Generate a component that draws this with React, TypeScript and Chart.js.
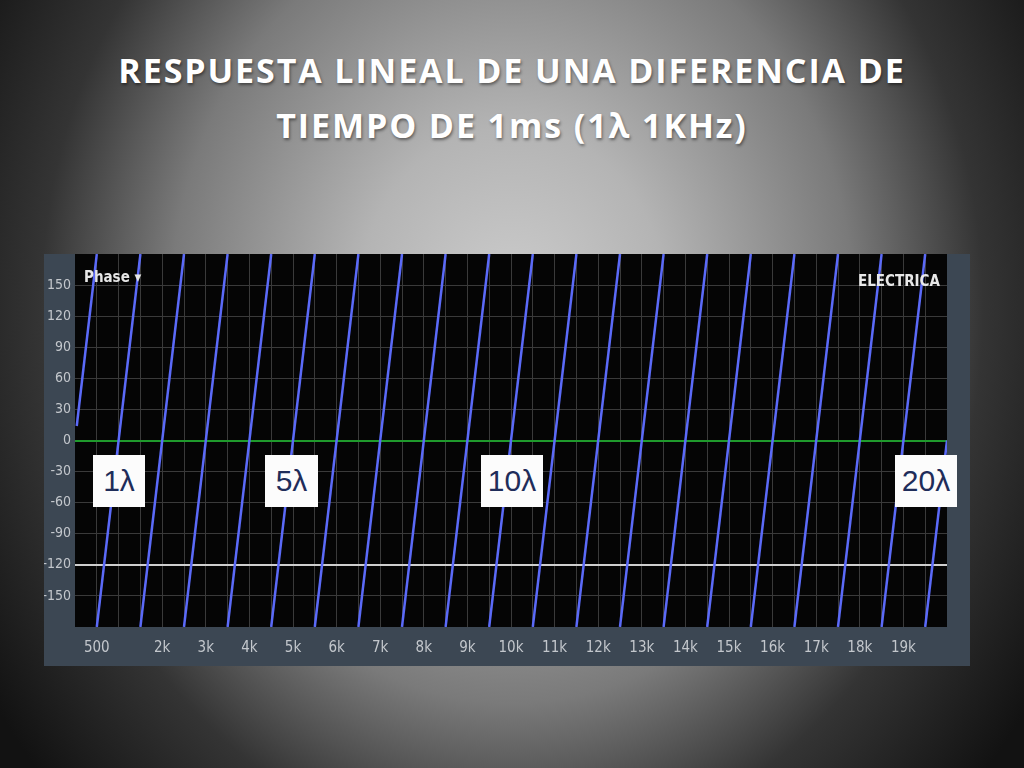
import { useEffect, useRef } from 'react';
import { Chart, registerables } from 'chart.js';

Chart.register(...registerables);

// phase wraps: each segment rises from -180 to +180 over 1 kHz (1 ms delay)
const segmentStartHz = [40, 500, 1500, 2500, 3500, 4500, 5500, 6500, 7500, 8500, 9500, 10500, 11500, 12500, 13500, 14500, 15500, 16500, 17500, 18500, 19500];
const segmentEndHz = [500, 1500, 2500, 3500, 4500, 5500, 6500, 7500, 8500, 9500, 10500, 11500, 12500, 13500, 14500, 15500, 16500, 17500, 18500, 19500, 20000];
const segmentStartDeg = [14, -180, -180, -180, -180, -180, -180, -180, -180, -180, -180, -180, -180, -180, -180, -180, -180, -180, -180, -180, -180];
const segmentEndDeg = [180, 180, 180, 180, 180, 180, 180, 180, 180, 180, 180, 180, 180, 180, 180, 180, 180, 180, 180, 180, 0];

// x axis labels that are shown (1k is missing on the analyzer screen)
const freqLabelHz = [500, 2000, 3000, 4000, 5000, 6000, 7000, 8000, 9000, 10000, 11000, 12000, 13000, 14000, 15000, 16000, 17000, 18000, 19000];
const phaseLabelDeg = [150, 120, 90, 60, 30, 0, -30, -60, -90, -120, -150];

const titleLines = ['RESPUESTA LINEAL DE UNA DIFERENCIA DE', 'TIEMPO DE 1ms (1λ 1KHz)'];

const narrowFont = '"Liberation Sans Narrow", "DejaVu Sans Condensed", Roboto, sans-serif';

const plotBackground = {
    id: 'plotBackground',
    beforeDraw: (chart: any) => {
        const { ctx, chartArea } = chart;
        ctx.save();
        ctx.fillStyle = '#050505';
        ctx.fillRect(chartArea.left, chartArea.top, chartArea.right - chartArea.left, chartArea.bottom - chartArea.top);
        ctx.restore();
    },
};

const PhaseChart = () => {
    const chartRef = useRef<HTMLCanvasElement>(null);

    useEffect(() => {
        const ctx = chartRef.current?.getContext('2d');
        if (!ctx) return;

        const datasets = segmentStartHz.map((startHz, i) => ({
            data: [
                { x: startHz, y: segmentStartDeg[i] },
                { x: segmentEndHz[i], y: segmentEndDeg[i] },
            ],
            borderColor: '#5b6af8',
            borderWidth: 2.5,
            pointRadius: 0,
            pointBorderWidth: 0,
            fill: false,
            tension: 0,
        }));

        const chart = new Chart(ctx, {
            type: 'line',
            data: { datasets },
            options: {
                animation: false,
                responsive: true,
                maintainAspectRatio: false,
                layout: { autoPadding: false, padding: { top: 0, right: 23, bottom: 0, left: 0 } },
                plugins: {
                    legend: { display: false },
                    tooltip: { enabled: false },
                },
                scales: {
                    x: {
                        type: 'linear',
                        min: 0,
                        max: 20000,
                        border: { display: false },
                        afterFit: (scale: any) => {
                            scale.height = 39;
                            scale.paddingLeft = 0;
                            scale.paddingRight = 0;
                        },
                        grid: {
                            drawTicks: false,
                            color: '#3a3a3a',
                            lineWidth: 1,
                        },
                        ticks: {
                            stepSize: 500,
                            autoSkip: false,
                            maxRotation: 0,
                            padding: 12,
                            color: '#c3c7cc',
                            font: { family: narrowFont, size: 15 },
                            callback: (value: any) => {
                                const v = Number(value);
                                if (v <= 0 || v >= 20000) return null;
                                if (!freqLabelHz.includes(v)) return '';
                                return v >= 1000 ? `${v / 1000}k` : `${v}`;
                            },
                        },
                    },
                    y: {
                        min: -180,
                        max: 180,
                        border: { display: false },
                        afterFit: (scale: any) => {
                            scale.width = 31;
                            scale.paddingTop = 0;
                            scale.paddingBottom = 0;
                        },
                        grid: {
                            drawTicks: false,
                            color: (c: any) => {
                                const v = c.tick?.value;
                                if (v === 0) return '#1f9a2c';
                                if (v === -120) return '#cfcfcf';
                                return '#3a3a3a';
                            },
                            lineWidth: (c: any) => {
                                const v = c.tick?.value;
                                return v === 0 || v === -120 ? 2 : 1;
                            },
                        },
                        ticks: {
                            stepSize: 30,
                            padding: 4,
                            color: '#c3c7cc',
                            font: { family: narrowFont, size: 14 },
                            callback: (value: any) => {
                                const v = Number(value);
                                if (!phaseLabelDeg.includes(v)) return null;
                                return `${v}`;
                            },
                        },
                    },
                },
            },
            plugins: [plotBackground],
        });

        return () => {
            chart.destroy();
        };
    }, []);

    return <canvas ref={chartRef} />;
};

const lambdaBox = (left: number, width: number, text: string) => (
    <div
        key={text}
        style={{
            position: 'absolute',
            left,
            top: 455,
            width,
            height: 52,
            background: '#fcfcfc',
            color: '#1f2d5a',
            fontFamily: '"Liberation Sans", Arial, sans-serif',
            fontSize: 30,
            lineHeight: '52px',
            textAlign: 'center',
        }}
    >
        {text}
    </div>
);

export default function App() {
    return (
        <div
            style={{
                position: 'absolute',
                left: 0,
                top: 0,
                width: 1024,
                height: 768,
                overflow: 'hidden',
                background:
                    'radial-gradient(ellipse 620px 720px at 50% 40%, #cdcdcd 0%, #b4b4b4 25%, #7a7a7a 55%, #343434 76%, #121212 100%)',
            }}
        >
            {titleLines.map((line, i) => (
                <div
                    key={line}
                    style={{
                        position: 'absolute',
                        left: 0,
                        top: 52 + i * 55,
                        width: 1024,
                        textAlign: 'center',
                        color: '#ffffff',
                        fontFamily: '"Open Sans", Lato, sans-serif',
                        fontWeight: 700,
                        fontSize: 34,
                        lineHeight: '36px',
                        letterSpacing: 1.9,
                        textShadow: '1px 2px 3px rgba(0,0,0,0.45)',
                    }}
                >
                    {line}
                </div>
            ))}

            <div style={{ position: 'absolute', left: 44, top: 254, width: 926, height: 412, background: '#3c4753' }}>
                <PhaseChart />
            </div>

            <div
                style={{
                    position: 'absolute',
                    left: 84,
                    top: 268,
                    color: '#e6e6e6',
                    fontFamily: narrowFont,
                    fontWeight: 700,
                    fontSize: 15,
                }}
            >
                Phase ▾
            </div>
            <div
                style={{
                    position: 'absolute',
                    left: 858,
                    top: 272,
                    color: '#e8e8e8',
                    fontFamily: narrowFont,
                    fontWeight: 700,
                    fontSize: 15,
                }}
            >
                ELECTRICA
            </div>

            {lambdaBox(93, 52, '1λ')}
            {lambdaBox(265, 53, '5λ')}
            {lambdaBox(481, 62, '10λ')}
            {lambdaBox(895, 62, '20λ')}
        </div>
    );
}
